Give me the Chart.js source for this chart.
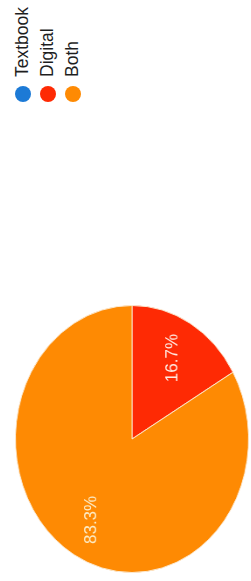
<!DOCTYPE html>
<html>
<head>
<meta charset="utf-8">
<title>Textbook / Digital / Both</title>
<script src="https://cdn.jsdelivr.net/npm/chart.js@4.4.1/dist/chart.umd.min.js"></script>
<style>
  html, body { margin: 0; padding: 0; background: #fff; width: 251px; height: 581px; overflow: hidden; }
  /* the photo shows the pie a little squeezed sideways */
  #pieBox { position: absolute; left: -2px; top: 305px; width: 268px; height: 268px; transform: scaleX(0.873); transform-origin: 134px 134px; }
  .dot { position: absolute; width: 16px; height: 16px; border-radius: 50%; top: 86px; }
  .name { position: absolute; top: 77px; font: 17.5px/17.5px "Liberation Sans", Arial, sans-serif; color: #1e1e1e; white-space: nowrap; transform-origin: 0 0; transform: rotate(-90deg); }
</style>
</head>
<body>
<div id="legend"></div>
<div id="pieBox"><canvas id="pie"></canvas></div>
<script>
const categories = ["Textbook", "Digital", "Both"];
const answers = [0, 1, 5];
const sliceColors = ["#1c7ad6", "#fe2a04", "#fe8a03"];

const SQUEEZE = 0.873;

// legend, written on its side like in the photo
const legend = document.getElementById("legend");
categories.forEach((name, i) => {
  const dot = document.createElement("div");
  dot.className = "dot";
  dot.style.left = (15 + 25 * i) + "px";
  dot.style.background = sliceColors[i];
  legend.appendChild(dot);

  const txt = document.createElement("span");
  txt.className = "name";
  txt.style.left = (14.2 + 25 * i) + "px";
  txt.textContent = name;
  legend.appendChild(txt);
});

// percentage text inside each slice
const sliceLabels = {
  id: "sliceLabels",
  afterDatasetsDraw(chart) {
    const ctx = chart.ctx;
    const total = answers.reduce((a, b) => a + b, 0);
    chart.getDatasetMeta(0).data.forEach((arc, i) => {
      if (!answers[i]) return;
      const mid = (arc.startAngle + arc.endAngle) / 2;
      const r = arc.outerRadius * 0.7;
      const x = arc.x + Math.cos(mid) * r;
      const y = arc.y + Math.sin(mid) * r;
      ctx.save();
      ctx.translate(x, y);
      ctx.scale(1 / SQUEEZE, 1);
      ctx.rotate(-Math.PI / 2);
      ctx.font = '17px "Liberation Sans", Arial, sans-serif';
      ctx.fillStyle = i === 2 ? "#fdebc4" : "#ffe9e0";
      ctx.textAlign = "center";
      ctx.textBaseline = "middle";
      ctx.fillText((answers[i] / total * 100).toFixed(1) + "%", 0, 0);
      ctx.restore();
    });
  }
};

new Chart(document.getElementById("pie"), {
  type: "pie",
  data: {
    labels: categories,
    datasets: [{
      data: answers,
      backgroundColor: sliceColors,
      borderColor: "#fbe9d0",
      borderWidth: 1
    }]
  },
  options: {
    responsive: true,
    maintainAspectRatio: false,
    animation: false,
    layout: { padding: 0 },
    plugins: {
      legend: { display: false },
      tooltip: { enabled: false }
    }
  },
  plugins: [sliceLabels]
});
</script>
</body>
</html>
